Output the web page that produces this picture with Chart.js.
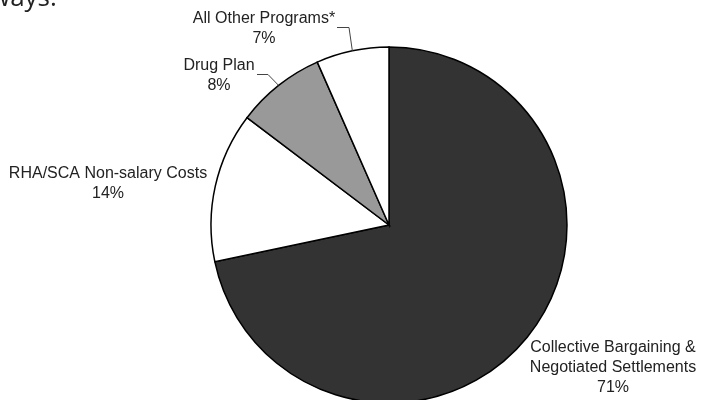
<!DOCTYPE html>
<html>
<head>
<meta charset="utf-8">
<script src="https://cdn.jsdelivr.net/npm/chart.js@4/dist/chart.umd.min.js"></script>
<style>
  html, body { margin: 0; padding: 0; background: #fff; overflow: hidden; }
  #wrap { position: relative; width: 702px; height: 400px; }
</style>
</head>
<body>
<div id="wrap"><canvas id="pie"></canvas></div>
<script>
// data
const categories = ['Collective Bargaining & Negotiated Settlements', 'RHA/SCA Non-salary Costs', 'Drug Plan', 'All Other Programs*'];
const shares = [71.7, 13.6, 8.1, 6.6];
const pctLabels = ['71%', '14%', '8%', '7%'];
const labelLines = [
  ['Collective Bargaining &', 'Negotiated Settlements'],
  ['RHA/SCA Non-salary Costs'],
  ['Drug Plan'],
  ['All Other Programs*']
];

// layout only
const sliceColors = ['#333333', '#ffffff', '#999999', '#ffffff'];
const labelPos = [{ x: 613, y: 348 }, { x: 108, y: 174 }, { x: 219, y: 66 }, { x: 264, y: 19 }];
const leaders = [null, null, [[257, 74], [268, 74]], [[337, 27], [349, 27]]];

const labelPlugin = {
  id: 'sliceLabels',
  afterDatasetsDraw(chart) {
    const ctx = chart.ctx;
    const arcs = chart.getDatasetMeta(0).data;
    ctx.save();

    // cut-off line of text above the chart
    ctx.fillStyle = '#222';
    ctx.font = '26px "Open Sans", sans-serif';
    ctx.textAlign = 'left';
    ctx.textBaseline = 'alphabetic';
    ctx.fillText('ways:', -10, 6);

    ctx.font = '16px "Liberation Sans", Arial, sans-serif';
    ctx.textAlign = 'center';
    ctx.textBaseline = 'middle';
    labelLines.forEach((lines, i) => {
      const p = labelPos[i];
      [...lines, pctLabels[i]].forEach((t, k) => ctx.fillText(t, p.x, p.y + k * 20));

      const ld = leaders[i];
      if (!ld) return;
      const a = arcs[i];
      const mid = (a.startAngle + a.endAngle) / 2;
      const ex = a.x + Math.cos(mid) * a.outerRadius;
      const ey = a.y + Math.sin(mid) * a.outerRadius;
      ctx.strokeStyle = '#444';
      ctx.lineWidth = 1;
      ctx.beginPath();
      ctx.moveTo(ld[0][0], ld[0][1] + 0.5);
      ctx.lineTo(ld[1][0], ld[1][1] + 0.5);
      ctx.lineTo(ex, ey);
      ctx.stroke();
    });
    ctx.restore();
  }
};

new Chart(document.getElementById('pie'), {
  type: 'pie',
  data: {
    labels: categories,
    datasets: [{
      data: shares,
      backgroundColor: sliceColors,
      borderColor: '#000',
      borderWidth: 1.5,
      borderJoinStyle: 'miter',
      radius: 178,
      clip: false
    }]
  },
  options: {
    responsive: true,
    maintainAspectRatio: false,
    animation: false,
    rotation: 0,
    layout: { padding: { left: 76, top: 50, right: 0, bottom: 0 } },
    plugins: { legend: { display: false }, tooltip: { enabled: false } }
  },
  plugins: [labelPlugin]
});
</script>
</body>
</html>
